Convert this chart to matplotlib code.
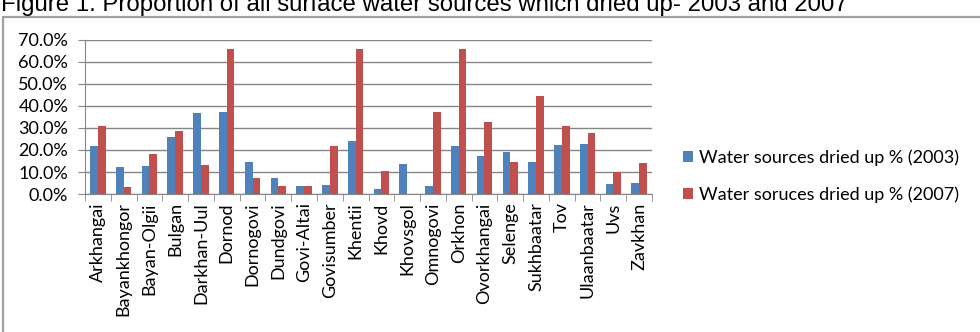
import matplotlib
matplotlib.use("Agg")
import matplotlib.pyplot as plt
import numpy as np
from matplotlib.patches import Rectangle
from matplotlib.ticker import FuncFormatter, MultipleLocator

categories = ["Arkhangai", "Bayankhongor", "Bayan-Olgii", "Bulgan", "Darkhan-Uul",
              "Dornod", "Dornogovi", "Dundgovi", "Govi-Altai", "Govisumber",
              "Khentii", "Khovd", "Khovsgol", "Omnogovi", "Orkhon", "Ovorkhangai",
              "Selenge", "Sukhbaatar", "Tov", "Ulaanbaatar", "Uvs", "Zavkhan"]
dried_2003 = [21.8, 12.3, 12.6, 26.0, 36.8, 37.5, 14.4, 7.4, 3.5, 4.1,
              24.1, 2.3, 13.8, 3.6, 21.6, 17.5, 19.1, 14.5, 22.4, 22.8, 4.5, 4.8]
dried_2007 = [31.0, 3.2, 18.3, 28.7, 13.3, 65.8, 7.3, 3.8, 3.6, 21.8,
              65.8, 10.4, 0.0, 37.4, 65.8, 32.7, 14.7, 44.6, 31.0, 27.7, 9.8, 13.9]
series_labels = ["Water sources dried up % (2003)", "Water soruces dried up % (2007)"]
title = "Figure 1. Proportion of all surface water sources which dried up- 2003 and 2007"

W, H = 980, 332
fig = plt.figure(figsize=(W / 100, H / 100), dpi=100)
fig.patch.set_facecolor("white")

font = "Lato"
gray = "#868686"
fs = 13

# outer border
fig.patches.append(Rectangle((3 / W, -0.1), 1.2, 1 - 17 / H + 0.1, transform=fig.transFigure,
                             fill=False, edgecolor="#a0a0a0", linewidth=1.6))

fig.text(1 / W, 1 - 11 / H, title, family="Liberation Sans", fontsize=17.3,
         ha="left", va="baseline", color="black")

ax = fig.add_axes([85 / W, 1 - 194 / H, (652 - 85) / W, (194 - 40) / H])
n = len(categories)
x = np.arange(n)
bw = 0.3
v03 = np.array(dried_2003) / 100
v07 = np.array(dried_2007) / 100
b1 = ax.bar(x - bw / 2, v03, bw, color="#4F81BD", label=series_labels[0], zorder=3)
b2 = ax.bar(x + bw / 2, v07, bw, color="#C0504D", label=series_labels[1], zorder=3)

ax.set_xlim(-0.5, n - 0.5)
ax.set_ylim(0, 0.7)
ax.yaxis.set_major_locator(MultipleLocator(0.1))
ax.yaxis.set_major_formatter(FuncFormatter(lambda v, p: f"{v * 100:.1f}%"))
ax.grid(axis="y", color=gray, linewidth=1.0, zorder=0)
for s in ["top", "right"]:
    ax.spines[s].set_visible(False)
ax.spines["left"].set_color(gray)
ax.spines["bottom"].set_color(gray)
ax.set_xticks(x)
ax.set_xticklabels(categories, rotation=90, family=font, fontsize=fs)
ax.tick_params(axis="x", length=0, pad=6)
ax.set_xticks(np.arange(-0.5, n, 1), minor=True)
ax.tick_params(axis="x", which="minor", length=5, color=gray, direction="out")
ax.tick_params(axis="y", length=5, color=gray, labelsize=fs, pad=7)
for lab in ax.get_yticklabels():
    lab.set_family(font)

leg = fig.legend(handles=[b1, b2], labels=series_labels, loc="center left",
                 bbox_to_anchor=(683 / W, 1 - 176.5 / H), frameon=False, borderpad=0,
                 borderaxespad=0,
                 prop={"family": font, "size": fs}, handlelength=0.55,
                 handleheight=0.55, handletextpad=0.35, labelspacing=1.13)

fig.savefig("out.png", dpi=100, facecolor="white")
